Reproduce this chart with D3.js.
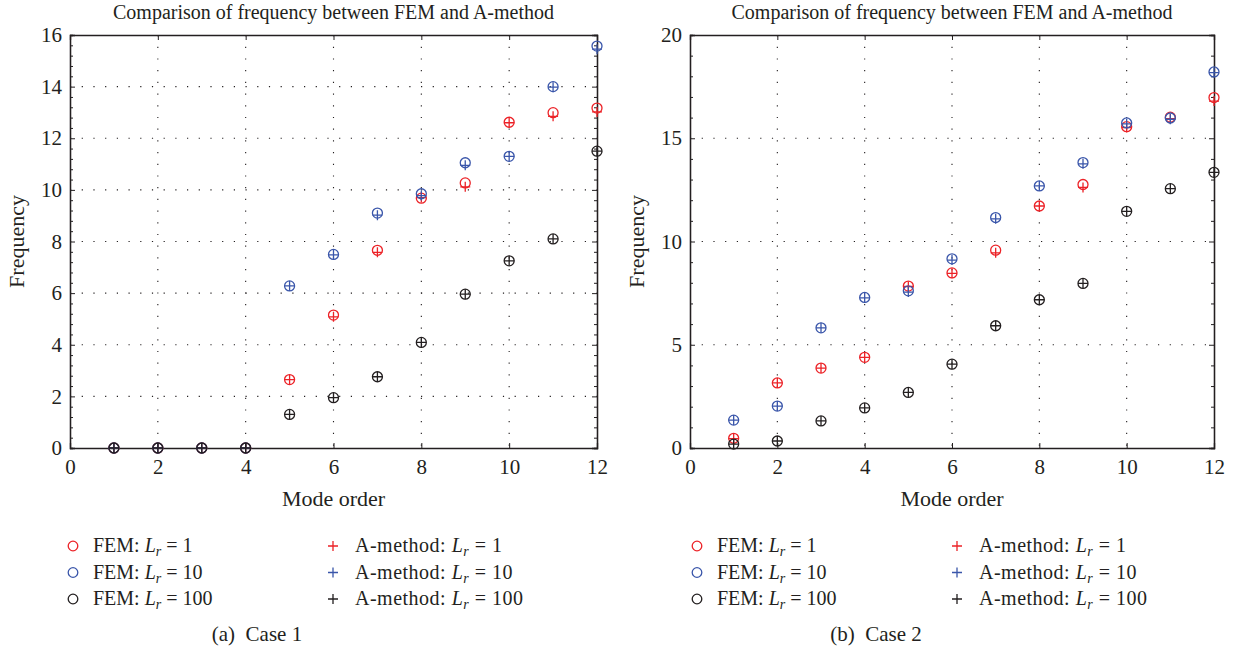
<!DOCTYPE html>
<html>
<head>
<meta charset="utf-8">
<script src="https://cdn.jsdelivr.net/npm/d3@7/dist/d3.min.js"></script>
<style>
  body { margin: 0; background: #fff; }
  svg text { font-family: "Liberation Serif", "DejaVu Serif", serif; fill: #231f20; }
</style>
</head>
<body>
<div class="canvas"></div>
<script>
// ##DATA
const modes = [1, 2, 3, 4, 5, 6, 7, 8, 9, 10, 11, 12];

// Case 1
const c1FemLr1   = [0, 0, 0, 0, 2.65, 5.15, 7.66, 9.68, 10.27, 12.62, 12.99, 13.17];
const c1AmLr1    = [0, 0, 0, 0, 2.65, 5.08, 7.58, 9.70, 10.12, 12.60, 12.85, 13.02];
const c1FemLr10  = [0, 0, 0, 0, 6.28, 7.50, 9.10, 9.85, 11.05, 11.30, 14.00, 15.57];
const c1AmLr10   = [0, 0, 0, 0, 6.28, 7.48, 9.02, 9.78, 10.95, 11.30, 13.98, 15.45];
const c1FemLr100 = [0, 0, 0, 0, 1.30, 1.95, 2.76, 4.09, 5.96, 7.25, 8.10, 11.50];
const c1AmLr100  = [0, 0, 0, 0, 1.30, 1.95, 2.76, 4.09, 5.96, 7.25, 8.10, 11.50];

// Case 2
const c2FemLr1   = [0.47, 3.15, 3.87, 4.39, 7.84, 8.48, 9.58, 11.72, 12.76, 15.56, 16.02, 16.97];
const c2AmLr1    = [0.45, 3.15, 3.87, 4.39, 7.82, 8.46, 9.45, 11.72, 12.62, 15.52, 15.95, 16.80];
const c2FemLr10  = [1.35, 2.03, 5.82, 7.29, 7.61, 9.16, 11.16, 12.69, 13.82, 15.74, 15.98, 18.21];
const c2AmLr10   = [1.35, 2.03, 5.82, 7.27, 7.55, 9.10, 11.10, 12.69, 13.76, 15.70, 15.92, 18.18];
const c2FemLr100 = [0.19, 0.34, 1.31, 1.94, 2.69, 4.06, 5.92, 7.18, 7.97, 11.46, 12.56, 13.35];
const c2AmLr100  = [0.19, 0.34, 1.31, 1.94, 2.69, 4.06, 5.92, 7.18, 7.97, 11.46, 12.56, 13.35];

const xTicks = [0, 2, 4, 6, 8, 10, 12];
const c1YTicks = [0, 2, 4, 6, 8, 10, 12, 14, 16];
const c2YTicks = [0, 5, 10, 15, 20];

const lrValues = ['1', '10', '100'];
const colors = ['#ec2227', '#3a56aa', '#231f20'];
// ##DATA END

const W = 1238, H = 656;
const svg = d3.select('.canvas')
    .append('svg')
    .attr('width', W)
    .attr('height', H);

// writes "<prefix>L_r = <lr>" into a text node
let lrLabel = (t, prefix, lr) => {
    t.append('tspan').text(prefix);
    t.append('tspan').style('font-style', 'italic').text('L');
    t.append('tspan').style('font-style', 'italic').style('font-size', '14px').attr('dy', 4).text('r');
    t.append('tspan').attr('dy', -4).text('\u2005= ' + lr);
};

let drawPanel = (cfg) => {
    const x = d3.scaleLinear().domain([0, 12]).range([cfg.left, cfg.right]);
    const y = d3.scaleLinear().domain([0, cfg.yMax]).range([448, 35]);
    const g = svg.append('g');

    // grid
    g.append('g').selectAll('line')
        .data(xTicks.slice(1, -1))
        .join('line')
        .attr('x1', d => x(d)).attr('x2', d => x(d))
        .attr('y1', y(cfg.yMax)).attr('y2', y(0))
        .attr('stroke', '#231f20').attr('stroke-width', 1.1)
        .attr('stroke-dasharray', '1.2,10.5');
    g.append('g').selectAll('line')
        .data(cfg.yTicks.slice(1, -1))
        .join('line')
        .attr('x1', x(0)).attr('x2', x(12))
        .attr('y1', d => y(d)).attr('y2', d => y(d))
        .attr('stroke', '#231f20').attr('stroke-width', 1.1)
        .attr('stroke-dasharray', '1.2,10.5');

    // axes (inward ticks all round)
    const bottom = d3.axisBottom(x).tickValues(xTicks).tickSize(-5).tickPadding(11);
    const top = d3.axisTop(x).tickValues(xTicks).tickSize(-5).tickFormat('');
    const left = d3.axisLeft(y).tickValues(cfg.yTicks).tickSize(-5).tickPadding(8);
    const right = d3.axisRight(y).tickValues(cfg.yTicks).tickSize(-5).tickFormat('');
    const minorY = d3.range(0, cfg.yMax + 1e-9, cfg.minor).filter(v => !cfg.yTicks.includes(+v.toFixed(3)));
    const leftMinor = d3.axisLeft(y).tickValues(minorY).tickSize(-3).tickFormat('');
    const rightMinor = d3.axisRight(y).tickValues(minorY).tickSize(-3).tickFormat('');

    const axes = [
        [bottom, `translate(0,${y(0)})`],
        [top, `translate(0,${y(cfg.yMax)})`],
        [left, `translate(${x(0)},0)`],
        [right, `translate(${x(12)},0)`],
        [leftMinor, `translate(${x(0)},0)`],
        [rightMinor, `translate(${x(12)},0)`]
    ];
    axes.forEach(([ax, tr]) => {
        g.append('g').attr('transform', tr).call(ax)
            .call(a => a.select('.domain').attr('stroke', '#231f20').attr('stroke-width', 1.3))
            .call(a => a.selectAll('.tick line').attr('stroke', '#231f20'))
            .call(a => a.selectAll('.tick text')
                .style('font-family', '"Liberation Serif", serif')
                .style('font-size', '21px')
                .attr('fill', '#231f20'));
    });

    // titles
    g.append('text')
        .attr('x', (cfg.left + cfg.right) / 2).attr('y', 19)
        .attr('text-anchor', 'middle').style('font-size', '20px')
        .text('Comparison of frequency between FEM and A-method');
    g.append('text')
        .attr('x', (cfg.left + cfg.right) / 2).attr('y', 506)
        .attr('text-anchor', 'middle').style('font-size', '22px')
        .text('Mode order');
    g.append('text')
        .attr('transform', `translate(${cfg.left - 46},${y(cfg.yMax / 2)}) rotate(-90)`)
        .attr('text-anchor', 'middle').style('font-size', '22px')
        .text('Frequency');

    // markers
    cfg.series.forEach((s, i) => {
        const pts = modes.map((m, j) => ({ m, fem: s.fem[j], am: s.am[j] }));
        g.append('g').selectAll('circle')
            .data(pts).join('circle')
            .attr('cx', d => x(d.m)).attr('cy', d => y(d.fem)).attr('r', 5)
            .attr('fill', 'none').attr('stroke', colors[i]).attr('stroke-width', 1.3);
        g.append('g').selectAll('path')
            .data(pts).join('path')
            .attr('d', d => `M${x(d.m) - 5},${y(d.am)}h10M${x(d.m)},${y(d.am) - 5}v10`)
            .attr('stroke', colors[i]).attr('stroke-width', 1.3);
    });

    // legend
    const lg = g.append('g');
    lrValues.forEach((lr, i) => {
        const yy = 546 + i * 26.5;
        lg.append('circle')
            .attr('cx', cfg.legX).attr('cy', yy).attr('r', 4.8)
            .attr('fill', 'none').attr('stroke', colors[i]).attr('stroke-width', 1.3);
        lrLabel(lg.append('text').attr('x', cfg.legX + 20).attr('y', yy + 6).style('font-size', '20px'),
            'FEM: ', lr);

        const px = cfg.legX + 260;
        lg.append('path')
            .attr('d', `M${px - 5},${yy}h10M${px},${yy - 5}v10`)
            .attr('stroke', colors[i]).attr('stroke-width', 1.3);
        lrLabel(lg.append('text').attr('x', px + 22).attr('y', yy + 6).style('font-size', '20px')
            .style('letter-spacing', '0.5px'), 'A-method: ', lr);
    });

    g.append('text')
        .attr('x', cfg.capX).attr('y', 641)
        .attr('text-anchor', 'middle').style('font-size', '21px')
        .text(cfg.caption);
};

drawPanel({
    left: 70, right: 597, yMax: 16, yTicks: c1YTicks, minor: 0.4,
    legX: 73, capX: 257, caption: '(a)\u00a0 Case 1',
    series: [
        { fem: c1FemLr1, am: c1AmLr1 },
        { fem: c1FemLr10, am: c1AmLr10 },
        { fem: c1FemLr100, am: c1AmLr100 }
    ]
});

drawPanel({
    left: 690, right: 1214, yMax: 20, yTicks: c2YTicks, minor: 1,
    legX: 697, capX: 876, caption: '(b)\u00a0 Case 2',
    series: [
        { fem: c2FemLr1, am: c2AmLr1 },
        { fem: c2FemLr10, am: c2AmLr10 },
        { fem: c2FemLr100, am: c2AmLr100 }
    ]
});
</script>
</body>
</html>
